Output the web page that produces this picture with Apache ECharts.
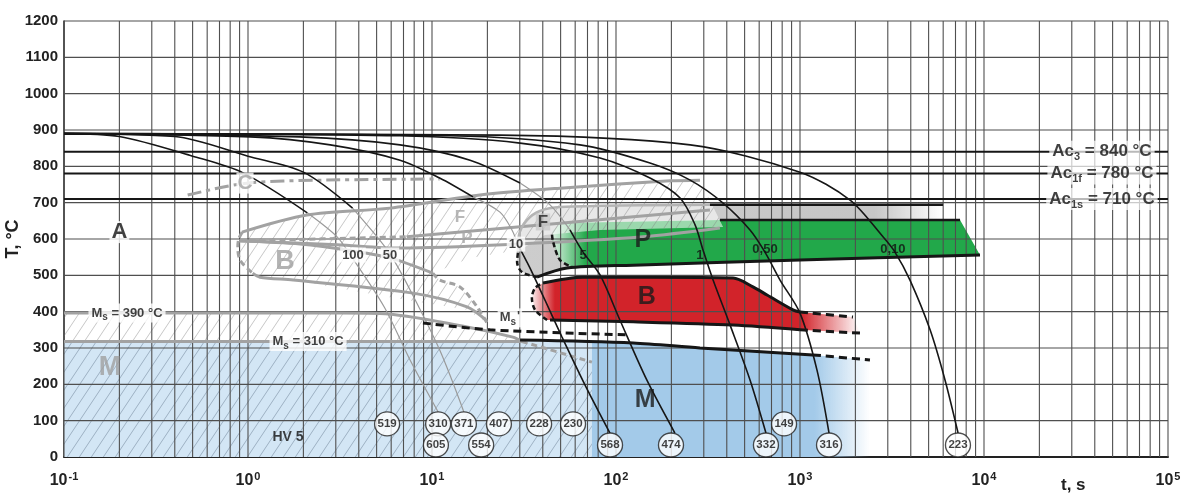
<!DOCTYPE html>
<html>
<head>
<meta charset="utf-8">
<script src="https://cdn.jsdelivr.net/npm/echarts@6/dist/echarts.min.js"></script>
<style>
  html, body { margin: 0; padding: 0; background: #fff; }
  #chart { width: 1191px; height: 495px; }
</style>
</head>
<body>
<div id="chart"></div>
<script>
const FONT = '"Liberation Sans", Arial, Helvetica, sans-serif';

// cooling curves, [time s, temperature °C]
const curve100 = [[0.1, 890], [0.2, 882], [0.5, 828], [0.94, 782], [2.1, 672], [3.05, 606], [3.6, 556], [5.5, 413], [7.6, 267], [10.8, 124]];
const curve50 = [[0.1, 890], [0.4, 882], [1.0, 828], [2.0, 784], [3.7, 685], [5.2, 597], [6.1, 548], [7.6, 460], [11, 295], [14.9, 124]];
const curve10 = [[0.1, 890], [1.03, 881], [2.8, 859], [6.7, 817], [11, 768], [16.7, 716], [23.4, 674], [27.2, 625], [29.3, 584], [34.1, 520], [41.1, 432], [50.9, 330], [67.9, 198], [92.7, 66]];
const curve5 = [[0.1, 890], [1.9, 881], [6.7, 859], [16.1, 817], [30.1, 754], [43.8, 694], [56.2, 625], [66.2, 564], [81.9, 501], [105, 377], [147, 212], [209, 66]];
const curve1 = [[0.1, 890], [6.7, 884], [30.1, 864], [81.9, 823], [153, 768], [223, 713], [269, 639], [297, 570], [337, 487], [417, 363], [535, 212], [653, 66]];
const curve050 = [[0.1, 890], [12.5, 884], [63.7, 859], [153, 809], [253, 762], [382, 699], [535, 625], [645, 564], [779, 487], [1000, 396], [1237, 239], [1438, 66]];
const curve010 = [[0.1, 890], [23.4, 886], [253, 859], [1000, 784], [1871, 707], [2825, 606], [3281, 564], [3960, 487], [5093, 350], [6138, 212], [7228, 66]];
const curves = [curve100, curve50, curve10, curve5, curve1, curve050, curve010];
// time span where each curve runs inside the hatched F/P/B field (drawn thin grey)
const greySpans = [[2.1, 1e9], [3.7, 1e9], [16.7, 29.3], [30.1, 56.2], null, null, null];

// cooling-rate labels, K/s
const rateBoxed = [[3.72, 556, '100'], [5.91, 556, '50'], [28.6, 586, '10']];
const ratePlain = [[66.2, 556, '5'], [286, 556, '1'], [645, 570, '0,50'], [3200, 570, '0,10']];

// hardness HV 5 at the end of the curves
const hardUpper = [[5.7, '519'], [10.8, '310'], [14.9, '371'], [23.1, '407'], [38.2, '228'], [58.4, '230'], [819, '149']];
const hardLower = [[10.5, '605'], [18.5, '554'], [92.8, '568'], [199, '474'], [653, '332'], [1438, '316'], [7220, '223']];
const hardRowT = [91, 33];

// critical temperatures
const acTemps = [840, 780, 710];
const acNames = ['Ac{s|3} = 840 °C', 'Ac{s|1f} = 780 °C', 'Ac{s|1s} = 710 °C'];

// grey phase boundaries (left field)
const fStart = [[0.928, 619], [2.09, 666], [5.91, 685], [18.2, 721], [49.6, 740], [197, 760], [286, 762]];
const bNose = [[0.93, 619], [0.89, 600], [0.88, 575], [0.91, 540], [1.06, 506]];
const pStartDash = [[0.9, 595], [7.3, 606]];
const pStart = [[7.3, 606], [324, 680]];
const midLine = [[0.9, 595], [3.05, 584], [6.7, 575], [29.3, 586], [140, 606], [367, 630]];
const bTopGrey = [[0.9, 595], [1.92, 586], [3.72, 567], [5.91, 548], [10.1, 506]];
const bEndDash = [[10.1, 506], [11, 487], [14.2, 468], [17.6, 413], [19.9, 369]];
const bBottomGrey = [[1.06, 506], [1.16, 495], [1.76, 487], [7.88, 451], [15.5, 413], [19.9, 374]];
const ms390 = [[0.1, 396], [3.16, 396], [5.2, 395], [15.5, 358], [27.5, 330], [30.8, 318]];
const ms310 = [[0.1, 318], [30.8, 318]];
const msDiag = [[30.8, 318], [74, 261]];
const cLine = [[0.47, 721], [0.96, 753], [2.5, 762], [11, 765]];
const fNoseGrey = [[29.3, 562], [29.7, 611], [32.8, 652], [38.6, 677], [49.6, 688], [324, 694]];

// black phase boundaries (right field)
const pBottom = [[37.2, 495], [54.2, 520], [124, 528], [1000, 542], [9510, 556]];
const pTop = [[367, 652], [7410, 652]];
const fTop = [[324, 694], [5984, 694]];
const bTop = [[40.1, 479], [66.2, 495], [153, 495], [433, 493], [555, 468], [662, 446], [916, 405], [1000, 399]];
const bTopDash = [[1000, 399], [1941, 385]];
const bBottom = [[43.8, 377], [124, 372], [433, 363], [1000, 350]];
const bBottomDash = [[1000, 350], [2119, 341]];
const bLeftDash = [[42.2, 377], [36.3, 405], [34.9, 438], [36.3, 465], [40.1, 479]];
const fNoseDash = [[29.3, 562], [29.0, 537], [30.8, 509], [37.2, 495]];
const pLeftDash = [[44.9, 612], [45.5, 592], [49.6, 542], [57.7, 523]];
const msPrime = [[8.93, 369], [20.7, 350], [119, 336]];
const mLine = [[30.1, 322], [124, 314], [286, 300], [1177, 281]];
const mLineDash = [[1177, 281], [2400, 267]];

// filled fields
const lightBlue = [[0.1, 0], [0.1, 318], [30.8, 320], [74, 316], [74, 0]];
const darkBlue = [[74, 0], [74, 316], [124, 314], [286, 300], [1177, 281], [2400, 267], [2400, 0]];
const hatchBlue = [[0.1, 0], [0.1, 318], [30.8, 318], [74, 261], [74, 0]];
const hatchBand = [[0.1, 318], [0.1, 396], [5.2, 395], [15.5, 358], [27.5, 330], [30.8, 318]];
const hatchFPB = [[0.905, 597], [0.928, 619], [2.09, 666], [5.91, 685], [18.2, 721], [49.6, 740], [197, 760], [286, 762], [382, 633], [81.9, 625], [41.1, 611], [30.1, 570], [16.1, 548], [10.1, 506], [11, 487], [14.2, 468], [17.6, 413], [19.9, 369], [15.5, 405], [5.91, 440], [1.76, 487], [1.16, 495], [1.06, 506], [0.905, 542], [0.88, 570]];
const fGrey = [[29.3, 562], [29.7, 611], [32.8, 652], [38.6, 677], [49.6, 688], [324, 694], [5984, 694], [5984, 652], [367, 652], [49.6, 644], [44.9, 610], [49.6, 542], [57.7, 523], [37.2, 495], [30.8, 509], [29.0, 537]];
const pGreen = [[44.9, 619], [44.9, 592], [49.6, 542], [57.7, 523], [124, 528], [1000, 542], [9510, 556], [7410, 652], [367, 652], [49.6, 644]];
const bRed = [[40.1, 479], [66.2, 495], [153, 495], [433, 493], [555, 468], [662, 446], [916, 405], [1000, 399], [1941, 385], [2119, 341], [1000, 350], [433, 363], [124, 372], [43.8, 377], [42.2, 377], [36.3, 405], [34.9, 438], [36.3, 465]];

// text in the field
const labelA = [[0.2, 619, 'A']];
const labelsBlackBig = [[140, 597, 'P'], [147, 440, 'B'], [144, 157, 'M']];
const labelsGreyBig = [[1.59, 537, 'B'], [0.178, 245, 'M']];
const labelsGreySmall = [[14.2, 661, 'F'], [15.5, 603, 'P']];
const labelC = [[0.963, 754, 'C']];
const labelF = [[40.1, 647, 'F']];
const msLabels = [[0.22, 396, 'M{s|s} = 390 °C'], [2.12, 318, 'M{s|s} = 310 °C']];
const msPrimeLabel = [[26.5, 383, "{m|M}{s|s}{q|'}"]];
const hvLabel = [[1.65, 55, 'HV 5']];
const acLabelT = 43750;

const GREY = '#a2a2a2';
const BLACK = '#161616';

const RICH = {
  s: {fontSize: 10, fontWeight: 'bold', fontFamily: FONT, padding: [9, 0, 0, 0]},
  m: {fontSize: 13, fontWeight: 'bold', fontFamily: FONT, color: '#111'},
  q: {fontSize: 13, fontWeight: 'bold', fontFamily: FONT, color: '#111', padding: [0, 0, 2, 1]}
};

function hatch(color) {
  const c = document.createElement('canvas');
  c.width = 12; c.height = 18;
  const g = c.getContext('2d');
  g.strokeStyle = color;
  g.lineWidth = 1;
  g.beginPath();
  for (const dx of [-12, 0, 12]) { g.moveTo(dx, 18); g.lineTo(dx + 12, 0); }
  g.stroke();
  return c;
}

function grad(stops) {
  return new echarts.graphic.LinearGradient(0, 0, 1, 0, stops.map(s => ({offset: s[0], color: s[1]})));
}

function region(pts, style, z) {
  return {
    type: 'custom', z, silent: true, data: pts,
    renderItem: (params, api) => {
      if (params.dataIndex !== 0) return;
      return {type: 'polygon', shape: {points: pts.map(q => api.coord(q))}, style};
    }
  };
}

function line(data, color, width, dash, z) {
  return {
    type: 'line', data, symbol: 'none', smooth: 0.3, silent: true, z,
    lineStyle: {color, width, type: dash || 'solid', cap: 'butt'}
  };
}

function text(data, label, z) {
  return {
    type: 'scatter', silent: true, z, symbolSize: 1,
    itemStyle: {color: 'rgba(0,0,0,0)'},
    data: data.map(d => ({value: [d[0], d[1]], name: d[2]})),
    label: Object.assign({
      show: true, position: 'inside', fontFamily: FONT, fontWeight: 'bold',
      color: '#111', formatter: p => p.name, rich: RICH
    }, label)
  };
}

// grid lines, drawn over the coloured fields
const gridLines = [];
for (let e = -1; e < 5; e++) {
  for (let m = 1; m < 10; m++) gridLines.push([m * Math.pow(10, e), 0, 0]);
}
gridLines.push([1e5, 0, 0]);
for (let T = 100; T <= 1200; T += 100) gridLines.push([0.1, T, 1]);

const series = [];
series.push(region(lightBlue, {fill: '#d3e6f5'}, 1));
series.push(region(darkBlue, {fill: grad([[0, '#a3cae9'], [0.8, '#a3cae9'], [1, 'rgba(163,202,233,0)']])}, 1));
series.push(region(fGrey, {fill: grad([[0, '#cdcdcd'], [0.84, '#c6c6c6'], [1, 'rgba(198,198,198,0)']])}, 2));
series.push(region(pGreen, {fill: grad([[0, 'rgba(34,168,74,0.15)'], [0.08, '#22a84a'], [1, '#22a84a']])}, 3));
series.push(region(bRed, {fill: grad([[0, 'rgba(210,35,42,0.08)'], [0.07, '#d2232a'], [0.82, '#d2232a'], [1, 'rgba(210,35,42,0)']])}, 3));
series.push(region(hatchBlue, {fill: {image: hatch('rgba(105,125,145,0.5)'), repeat: 'repeat'}}, 4));
series.push(region(hatchBand, {fill: {image: hatch('rgba(130,130,130,0.45)'), repeat: 'repeat'}}, 4));
series.push(region(hatchFPB, {fill: 'rgba(255,255,255,0.55)'}, 4));
series.push(region(hatchFPB, {fill: {image: hatch('rgba(130,130,130,0.45)'), repeat: 'repeat'}}, 4));

series.push({
  type: 'custom', z: 5, silent: true, data: gridLines,
  renderItem: (params, api) => {
    const v = api.value(0), T = api.value(1), h = api.value(2);
    const a = h ? api.coord([0.1, T]) : api.coord([v, 0]);
    const b = h ? api.coord([1e5, T]) : api.coord([v, 1200]);
    return {type: 'line', shape: {x1: a[0], y1: a[1], x2: b[0], y2: b[1]}, style: {stroke: '#4f4f4f', lineWidth: 1.1}};
  }
});

// Ac lines
acTemps.forEach(T => series.push(line([[0.1, T], [1e5, T]], BLACK, 2, null, 6)));

// grey boundaries
[fStart, pStart, midLine, bTopGrey, bBottomGrey, ms390, ms310].forEach(d => series.push(line(d, GREY, 3, null, 6)));
series.push(line(fNoseGrey, '#b4b4b4', 2.5, null, 6));
[bNose, pStartDash, bEndDash, msDiag].forEach(d => series.push(line(d, GREY, 3, [6, 4], 6)));
series.push(line(cLine, GREY, 3, [14, 5, 4, 5], 6));

// cooling curves: thin grey where inside the hatched field, black elsewhere
curves.forEach((c, i) => {
  const span = greySpans[i];
  if (!span) { series.push(line(c, BLACK, 1.6, null, 7)); return; }
  series.push(line(c.filter(p => p[0] >= span[0] && p[0] <= span[1]), '#9a9a9a', 1.2, null, 7));
  series.push(line(c.filter(p => p[0] <= span[0]), BLACK, 1.6, null, 7));
  const tail = c.filter(p => p[0] >= span[1]);
  if (tail.length > 1) series.push(line(tail, BLACK, 1.6, null, 7));
});

// black boundaries
[pBottom, bTop, bBottom, mLine].forEach(d => series.push(line(d, BLACK, 3, null, 8)));
[pTop, fTop].forEach(d => series.push(line(d, BLACK, 2.5, null, 8)));
[bTopDash, bBottomDash, mLineDash, msPrime].forEach(d => series.push(line(d, BLACK, 3, [8, 5], 8)));
[bLeftDash, fNoseDash, pLeftDash].forEach(d => series.push(line(d, BLACK, 2.5, [5, 3], 8)));

// labels
series.push(text(labelA, {fontSize: 22, backgroundColor: '#fff', padding: [0, 2]}, 10));
series.push(text(labelsBlackBig, {fontSize: 25, color: '#1a1a1a'}, 10));
series.push(text(labelsGreyBig, {fontSize: 27, color: '#a0a0a0'}, 10));
series.push(text(labelsGreySmall, {fontSize: 17, color: '#a6a6a6'}, 10));
series.push(text(labelC, {fontSize: 21, color: '#a0a0a0', backgroundColor: '#fff', padding: [0, 1]}, 10));
series.push(text(labelF, {fontSize: 17, color: '#222', backgroundColor: '#c9c9c9', padding: [0, 2]}, 10));
series.push(text(rateBoxed, {fontSize: 13, backgroundColor: '#fff', padding: [1, 2]}, 10));
series.push(text(ratePlain, {fontSize: 13}, 10));
series.push(text(msLabels, {fontSize: 13, backgroundColor: '#fff', padding: [0, 3]}, 10));
series.push(text(msPrimeLabel, {fontSize: 13, backgroundColor: '#fff', padding: [0, 2]}, 10));
series.push(text(hvLabel, {fontSize: 14}, 10));
series.push(text(acTemps.map((T, i) => [acLabelT, T, acNames[i]]), {
  fontSize: 17, backgroundColor: 'rgba(255,255,255,0.88)', padding: [0, 3],
  rich: {s: {fontSize: 11, fontWeight: 'bold', fontFamily: FONT, padding: [11, 0, 0, 0]}}
}, 10));

// hardness circles
const circles = hardUpper.map(h => [h[0], hardRowT[0], h[1]]).concat(hardLower.map(h => [h[0], hardRowT[1], h[1]]));
series.push({
  type: 'scatter', silent: true, z: 11, symbol: 'circle', symbolSize: [25, 24],
  itemStyle: {color: '#fff', borderColor: '#222', borderWidth: 1.3},
  data: circles.map(d => ({value: [d[0], d[1]], name: d[2]})),
  label: {show: true, position: 'inside', formatter: p => p.name, fontFamily: FONT, fontWeight: 'bold', fontSize: 11.5, color: '#111'}
});

const chart = echarts.init(document.getElementById('chart'));
chart.setOption({
  animation: false,
  grid: {left: 64, right: 23, top: 21, bottom: 38, containLabel: false, outerBoundsMode: 'none'},
  xAxis: {
    type: 'log', logBase: 10, min: 0.1, max: 1e5, interval: 1, splitNumber: 6,
    axisLine: {show: true, lineStyle: {color: '#222', width: 2}},
    axisTick: {show: false}, splitLine: {show: false},
    axisLabel: {
      margin: 14,
      formatter: v => '{b|10}{sup|' + Math.round(Math.log10(v)) + '}',
      rich: {
        b: {fontSize: 16, fontWeight: 'bold', fontFamily: FONT, color: '#222'},
        sup: {fontSize: 11, fontWeight: 'bold', fontFamily: FONT, color: '#222', padding: [0, 0, 9, 1]}
      }
    }
  },
  yAxis: {
    type: 'value', min: 0, max: 1200, interval: 100,
    name: 'T, °C', nameLocation: 'middle', nameGap: 42, nameRotate: 90, nameMoveOverlap: false,
    nameTextStyle: {fontFamily: FONT, fontWeight: 'bold', fontSize: 18, color: '#222'},
    axisLine: {show: true, lineStyle: {color: '#222', width: 1.5}},
    axisTick: {show: false}, splitLine: {show: false},
    axisLabel: {margin: 6, fontFamily: FONT, fontWeight: 'bold', fontSize: 15, color: '#222', formatter: v => String(v)}
  },
  graphic: [{
    type: 'text', left: 1061, top: 477,
    style: {text: 't, s', font: 'bold 17px ' + FONT, fill: '#222'}
  }],
  series
});
</script>
</body>
</html>
